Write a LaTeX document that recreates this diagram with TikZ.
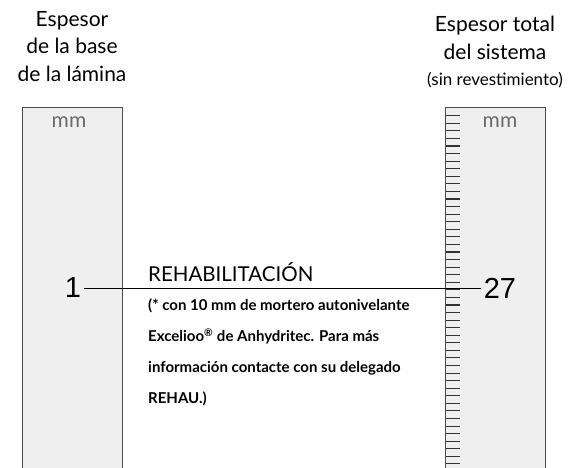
\documentclass[tikz,border=0pt]{standalone}
\usepackage{fontspec}
\setmainfont{Lato}
\newfontfamily\numfont{Liberation Sans}
\usetikzlibrary{positioning}

\definecolor{rulerfill}{HTML}{EFEFEF}
\definecolor{unitgray}{HTML}{6A6A6A}

\tikzset{
    head/.style={align=center, inner sep=0pt, font=\fontsize{21}{27.5}\selectfont},
    unit/.style={text=unitgray, inner sep=0pt, font=\fontsize{21}{22}\selectfont},
    value/.style={inner sep=3pt, font=\numfont\fontsize{29}{30}\selectfont},
    tick/.style={line width=1.1pt, black!80}
}

\begin{document}
\begin{tikzpicture}[x=1pt,y=-1pt]
    \useasboundingbox (0,0) rectangle (579,468);

    \fill[rulerfill] (22,107) rectangle (122,470);
    \draw[black!70, line width=0.8pt] (22,470) |- (122,107) -- (122,470);

    \fill[rulerfill] (445,107) rectangle (545,470);
    \draw[black!70, line width=0.8pt] (445,470) |- (545,107) -- (545,470);

    \foreach \i in {0,...,46}
    {
        \draw[tick] (446,{115.7+7.57*\i}) -- +(14,0);
    }

    \node[head, anchor=north] (headbase) at (72,11) {Espesor\\de la base\\de la lámina};
    \node[head, anchor=north] (headtotal) at (495,16) {Espesor total\\del sistema};
    \node[anchor=base, inner sep=0pt, font=\fontsize{17}{18}\selectfont] (headnote) at (495,86) {(sin revestimiento)};

    \node[unit] (unitbase) at (69,122) {mm};
    \node[unit] (unittotal) at (500,122) {mm};

    \node[value] (base) at (73,288) {1};
    \node[value] (total) at (500,288) {27};
    \draw[line width=0.8pt] (base) -- (total);

    \node[anchor=base west, inner sep=0pt, font=\fontsize{20.5}{22}\selectfont] (title) at (148,281.5) {REHABILITACIÓN};
    \node[below=17.5pt of title.base west, anchor=north west, align=left, inner sep=0pt,
          font=\bfseries\fontsize{15}{31}\selectfont] (note)
        {(* con 10 mm de mortero autonivelante\\Excelioo\textsuperscript{®} de Anhydritec. Para más\\información contacte con su delegado\\REHAU.)};
\end{tikzpicture}
\end{document}
